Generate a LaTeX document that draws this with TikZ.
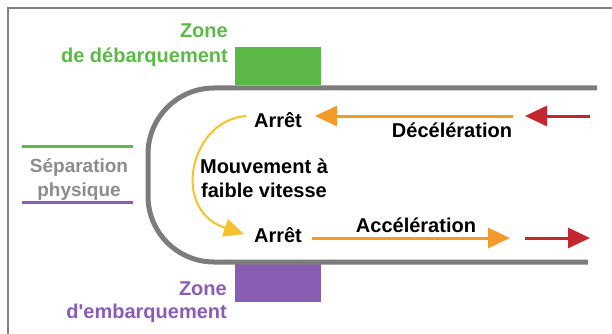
\documentclass[tikz,border=0pt]{standalone}
\usepackage{fontspec}
\setmainfont{Liberation Sans}
\usetikzlibrary{arrows.meta}
\definecolor{trackgray}{HTML}{7C7C7C}
\definecolor{framegray}{HTML}{808080}
\definecolor{zgreen}{HTML}{5DB947}
\definecolor{zpurple}{HTML}{8A5DB5}
\definecolor{sepgray}{HTML}{8C8C8C}
\definecolor{aorange}{HTML}{F39A2B}
\definecolor{ared}{HTML}{C4262E}
\definecolor{ayellow}{HTML}{F6C22C}
\tikzset{
  lbl/.style={font=\bfseries\fontsize{20}{24}\selectfont, inner sep=0pt},
  zonebox/.style={draw=none, minimum width=86pt, minimum height=38pt, inner sep=0pt},
  track/.style={draw=trackgray, line width=5pt, rounded corners=66pt},
  orangearrow/.style={draw=aorange, line width=3pt, -{Triangle[length=22pt,width=20pt]}},
  redarrow/.style={draw=ared, line width=3pt, -{Triangle[length=22pt,width=20pt]}},
  yellowarrow/.style={draw=ayellow, line width=2pt, -{Triangle[length=20pt,width=18pt]}},
  sepline/.style={line width=3pt}
}
\begin{document}
\begin{tikzpicture}[x=1pt,y=-1pt]
\useasboundingbox (0,0) rectangle (612,334);
% frame (top and left)
\draw[framegray, line width=1.6pt] (8,334) -- (8,8) -- (612,8);
% zones
\node[zonebox, fill=zgreen, anchor=north west] (debox) at (235,47) {};
\node[zonebox, fill=zpurple, anchor=north west] (embox) at (235,264) {};
% track
\draw[track] (597,88) -- (148,88) -- (148,262) -- (588,262);
% zone labels
\node[lbl, text=zgreen, align=right, anchor=base east, font=\bfseries\fontsize{20}{25}\selectfont] (delbl) at (228,63) {Zone\\de débarquement};
\node[lbl, text=zpurple, align=right, anchor=base east, font=\bfseries\fontsize{20}{23}\selectfont] (emlbl) at (227,318) {Zone\\d\textquotesingle embarquement};
% separation
\coordinate (sg1) at (22,146); \coordinate (sg2) at (133,146);
\coordinate (sp1) at (22,202); \coordinate (sp2) at (133,202);
\draw[sepline, zgreen] (sg1) -- (sg2);
\draw[sepline, zpurple] (sp1) -- (sp2);
\node[lbl, text=sepgray, align=center, anchor=base, font=\bfseries\fontsize{19}{24}\selectfont] (sep) at (79,196) {Séparation\\physique};
% stop labels
\node[lbl, anchor=base] (arret1) at (278,128) {Arrêt};
\node[lbl, anchor=base] (arret2) at (278,242) {Arrêt};
\node[lbl, align=center, anchor=base] (mouv) at (264,197) {Mouvement à\\faible vitesse};
\node[lbl, anchor=base] (decel) at (452,137) {Décélération};
\node[lbl, anchor=base] (accel) at (416,232) {Accélération};
% arrows
\coordinate (dstart) at (513,116); \coordinate (dend) at (315,116);
\coordinate (rdstart) at (590,116); \coordinate (rdend) at (525,116);
\coordinate (astart) at (312,238); \coordinate (aend) at (510,238);
\coordinate (rastart) at (525,238); \coordinate (raend) at (590,238);
\draw[orangearrow] (dstart) -- (dend);
\draw[redarrow] (rdstart) -- (rdend);
\draw[orangearrow] (astart) -- (aend);
\draw[redarrow] (rastart) -- (raend);
% yellow curve
\coordinate (ystart) at (246,116); \coordinate (yend) at (244,234);
\draw[yellowarrow] (ystart) .. controls (190,120) and (170,210) .. (yend);
\end{tikzpicture}
\end{document}
